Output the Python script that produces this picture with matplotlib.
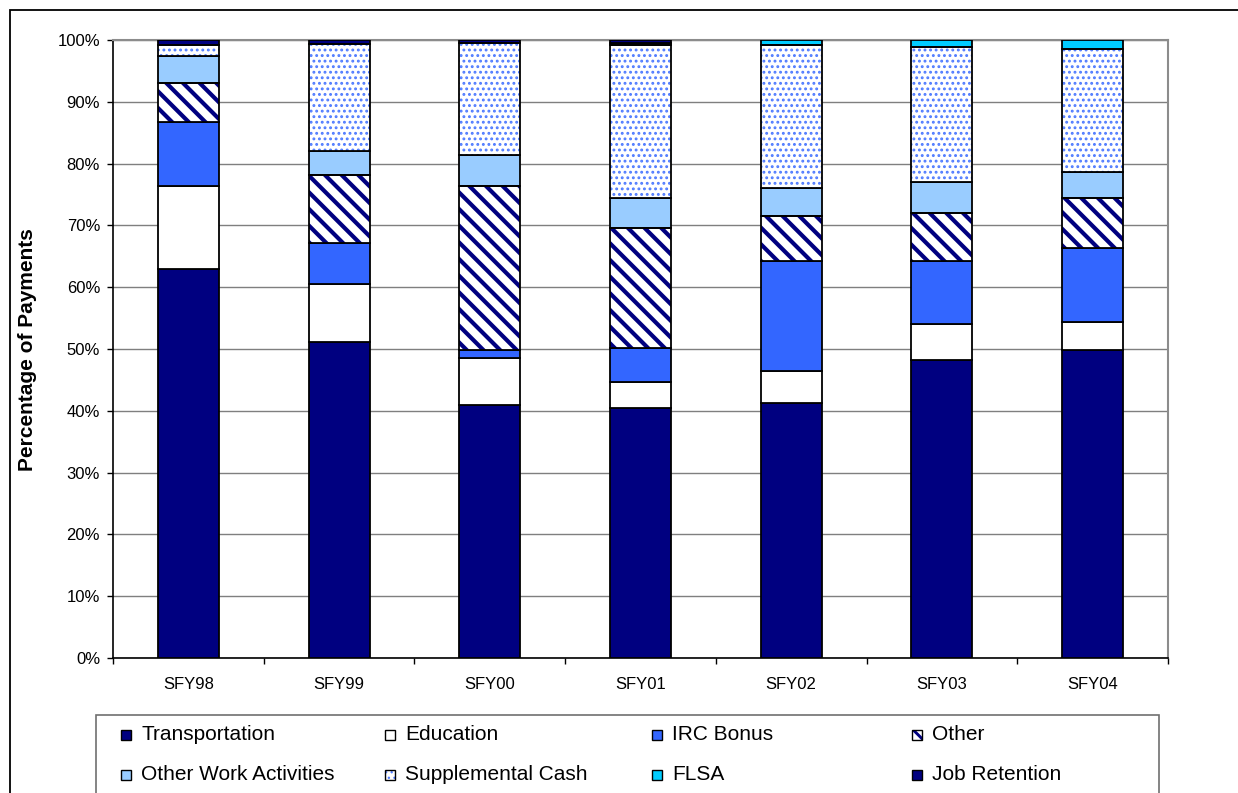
import matplotlib
matplotlib.use("Agg")
import matplotlib.pyplot as plt
import numpy as np
from matplotlib.patches import Rectangle
from matplotlib.ticker import FuncFormatter, FixedLocator

plt.rcParams['font.family'] = ['Liberation Sans', 'DejaVu Sans']

years = ["SFY98", "SFY99", "SFY00", "SFY01", "SFY02", "SFY03", "SFY04"]
transportation = [62.9, 51.1, 41.0, 40.4, 41.3, 48.3, 49.8]
education = [13.4, 9.4, 7.5, 4.3, 5.1, 5.7, 4.5]
irc_bonus = [10.4, 6.6, 1.3, 5.4, 17.8, 10.2, 12.0]
other = [6.3, 11.0, 26.5, 19.4, 7.4, 7.8, 8.1]
other_work = [4.4, 3.9, 5.1, 4.9, 4.4, 5.0, 4.2]
supplemental_cash = [1.8, 17.4, 18.1, 24.8, 23.2, 21.9, 19.9]
flsa = [0.0, 0.0, 0.0, 0.3, 0.8, 1.1, 1.5]
job_retention = [0.8, 0.6, 0.5, 0.5, 0.0, 0.0, 0.0]

series_names = ["Transportation", "Education", "IRC Bonus", "Other",
                "Other Work Activities", "Supplemental Cash", "FLSA", "Job Retention"]
series_values = [transportation, education, irc_bonus, other,
                 other_work, supplemental_cash, flsa, job_retention]

# style: (facecolor, hatch, hatchcolor, hatch linewidth)
styles = [
    ("#000080", None, None, None),
    ("#ffffff", None, None, None),
    ("#3366ff", None, None, None),
    ("#ffffff", "\\\\", "#000080", 3.0),
    ("#99ccff", None, None, None),
    ("#ffffff", "...", "#4f7bff", 1.3),
    ("#00ccff", None, None, None),
    ("#000080", None, None, None),
]

W, H = 1238, 793
fig = plt.figure(figsize=(W / 100, H / 100), dpi=100)
ax = fig.add_axes([113 / W, (H - 658) / H, (1168 - 113) / W, (658 - 40) / H])

x = np.arange(len(years))
width = 0.405
bottom = np.zeros(len(years))
EDGE_LW = 1.3


def set_hlw(container, lw):
    for p in container.patches:
        if hasattr(p, "set_hatch_linewidth"):
            p.set_hatch_linewidth(lw)


for vals, (fc, hatch, hc, hlw) in zip(series_values, styles):
    v = np.array(vals, dtype=float)
    m = v > 0
    if hatch:
        with plt.rc_context({"hatch.linewidth": hlw}):
            c = ax.bar(x[m], v[m], width, bottom=bottom[m], color=fc,
                       edgecolor=hc, linewidth=0, hatch=hatch, zorder=3)
        set_hlw(c, hlw)
        ax.bar(x[m], v[m], width, bottom=bottom[m], fill=False,
               edgecolor="black", linewidth=EDGE_LW, zorder=4)
    else:
        ax.bar(x[m], v[m], width, bottom=bottom[m], color=fc,
               edgecolor="black", linewidth=EDGE_LW, zorder=3)
    bottom = bottom + v

ax.set_xlim(-0.5, len(years) - 0.5)
ax.set_ylim(0, 100)
ax.set_yticks(np.arange(0, 101, 10))
ax.yaxis.set_major_formatter(FuncFormatter(lambda v, p: f"{int(round(v))}%"))
ax.grid(axis="y", color="#7f7f7f", linewidth=1.0, zorder=0)
ax.set_axisbelow(True)
ax.set_xticks(x)
ax.set_xticklabels(years)
ax.xaxis.set_minor_locator(FixedLocator(np.arange(-0.5, len(years), 1.0)))
ax.tick_params(axis="x", which="major", length=0, pad=14, labelsize=12)
ax.tick_params(axis="x", which="minor", length=4, width=1.0, direction="out")
ax.tick_params(axis="y", length=4.3, width=1.0, direction="out", pad=5, labelsize=12)
for s in ("top", "right"):
    ax.spines[s].set_color("#8c8c8c")
    ax.spines[s].set_linewidth(1.5)
for s in ("left", "bottom"):
    ax.spines[s].set_color("black")
    ax.spines[s].set_linewidth(1.2)

fig.text(28 / W, 1 - 350 / H, "Percentage of Payments", rotation=90,
         ha="center", va="center", fontsize=15, fontweight="bold")

# outer chart frame
fig.patches.append(Rectangle((9.5 / W, -0.05), 1.2, 1 - 10 / H + 0.05,
                             transform=fig.transFigure, fill=False,
                             edgecolor="black", linewidth=1.3))

# legend (manual layout)
fig.patches.append(Rectangle((96 / W, -0.05), (1159 - 96) / W, 1 - 715 / H + 0.05,
                             transform=fig.transFigure, fill=False,
                             edgecolor="#707070", linewidth=1.2))
col_x = [121, 385, 652, 912]
row_y = [735, 775]
sq = 10
for i, (name, (fc, hatch, hc, hlw)) in enumerate(zip(series_names, styles)):
    cx = col_x[i % 4]
    cy = row_y[i // 4]
    r = Rectangle((cx / W, 1 - (cy + sq / 2) / H), sq / W, sq / H,
                  transform=fig.transFigure, facecolor=fc,
                  edgecolor=hc if hatch else "black",
                  linewidth=0 if hatch else 1.0, hatch=hatch)
    if hatch and hasattr(r, "set_hatch_linewidth"):
        r.set_hatch_linewidth(hlw * 0.7)
    fig.patches.append(r)
    if hatch:
        fig.patches.append(Rectangle((cx / W, 1 - (cy + sq / 2) / H), sq / W, sq / H,
                                     transform=fig.transFigure, fill=False,
                                     edgecolor="black", linewidth=1.0))
    fig.text((cx + 20) / W, 1 - cy / H, name, ha="left", va="center", fontsize=15)

fig.savefig("out.png", dpi=100)
